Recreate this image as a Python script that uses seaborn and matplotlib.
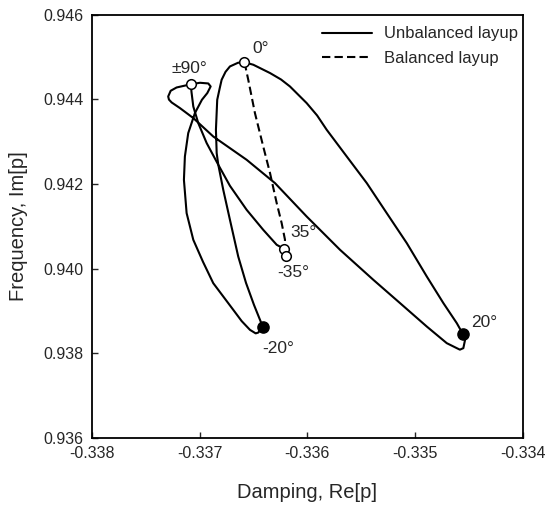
import numpy as np
import pandas as pd
import matplotlib
matplotlib.use("Agg")
import matplotlib.pyplot as plt
import seaborn as sns

# Unbalanced layup: main closed loop (0 -> 20 -> +-90 -> -20 -> 0)
loop_re = [-0.336584, -0.336502, -0.336347, -0.336245, -0.336162, -0.336007,
           -0.335910, -0.335821, -0.335635, -0.335449, -0.335264, -0.335078,
           -0.334892, -0.334738, -0.334614, -0.334558, -0.334537, -0.334553,
           -0.334585, -0.334614, -0.334707, -0.334892, -0.335140, -0.335388,
           -0.335697, -0.336007, -0.336301, -0.336564, -0.336874, -0.337059,
           -0.337183, -0.337260, -0.337285, -0.337292, -0.337269, -0.337214,
           -0.337081, -0.336997, -0.336920, -0.336898, -0.336929, -0.336979,
           -0.337044, -0.337106, -0.337137, -0.337146, -0.337121, -0.337059,
           -0.336969, -0.336874, -0.336688, -0.336610, -0.336533, -0.336480,
           -0.336456, -0.336415, -0.336440, -0.336496, -0.336570, -0.336642,
           -0.336719, -0.336781, -0.336827, -0.336842, -0.336849, -0.336837,
           -0.336815, -0.336796, -0.336760, -0.336719, -0.336644, -0.336584]
loop_im = [0.944877, 0.944818, 0.944622, 0.944470, 0.944305, 0.943912,
           0.943620, 0.943281, 0.942650, 0.942021, 0.941312, 0.940603,
           0.939813, 0.939184, 0.938712, 0.938459, 0.938317, 0.938121,
           0.938085, 0.938121, 0.938239, 0.938631, 0.939184, 0.939735,
           0.940444, 0.941232, 0.942021, 0.942572, 0.943123, 0.943558,
           0.943794, 0.943927, 0.943995, 0.944068, 0.944203, 0.944281,
           0.944357, 0.944392, 0.944376, 0.944305, 0.944149, 0.943990,
           0.943676, 0.943203, 0.942650, 0.942099, 0.941312, 0.940681,
           0.940161, 0.939657, 0.939026, 0.938760, 0.938553, 0.938470,
           0.938489, 0.938631, 0.938790, 0.939144, 0.939664, 0.940286,
           0.941154, 0.941863, 0.942454, 0.942730, 0.943281, 0.943990,
           0.944250, 0.944463, 0.944650, 0.944778, 0.944865, 0.944877]

# Unbalanced layup: branch from +-90 down to 35
branch_re = [-0.337081, -0.337076, -0.337059, -0.337013, -0.336935, -0.336827,
             -0.336719, -0.336564, -0.336410, -0.336285, -0.336217]
branch_im = [0.944345, 0.944179, 0.943832, 0.943440, 0.942967, 0.942454,
             0.941957, 0.941390, 0.940917, 0.940563, 0.940468]

# Balanced layup
bal_re = [-0.336584, -0.336549, -0.336487, -0.336410, -0.336347, -0.336285,
          -0.336239, -0.336208, -0.336217, -0.336202]
bal_im = [0.944877, 0.944463, 0.943676, 0.942886, 0.942258, 0.941548,
          0.941076, 0.940681, 0.940468, 0.940310]

# marked ply angles
open_re = [-0.336584, -0.337081, -0.336214, -0.336202]
open_im = [0.944877, 0.944357, 0.940468, 0.940310]
filled_re = [-0.336415, -0.334558]
filled_im = [0.938631, 0.938459]

labels = ["0°", "±90°", "35°", "-35°", "-20°", "20°"]
label_re = [-0.336431, -0.337099, -0.336032, -0.336134, -0.336273, -0.334360]
label_im = [0.945200, 0.944735, 0.940858, 0.939912, 0.938104, 0.938730]

sns.set_style("ticks", {"xtick.direction": "in", "ytick.direction": "in"})
plt.rcParams["font.family"] = ["Liberation Sans", "DejaVu Sans"]

fig = plt.figure(figsize=(5.47, 5.08), dpi=100)
ax = fig.add_axes([0.168, 0.138, 0.788, 0.833])

df_loop = pd.DataFrame({"re": loop_re, "im": loop_im})
df_branch = pd.DataFrame({"re": branch_re, "im": branch_im})
df_bal = pd.DataFrame({"re": bal_re, "im": bal_im})

sns.lineplot(data=df_loop, x="re", y="im", sort=False, estimator=None,
             color="black", linewidth=1.5, label="Unbalanced layup", ax=ax)
sns.lineplot(data=df_branch, x="re", y="im", sort=False, estimator=None,
             color="black", linewidth=1.5, ax=ax)
sns.lineplot(data=df_bal, x="re", y="im", sort=False, estimator=None,
             color="black", linewidth=1.5, linestyle=(0, (4, 2)),
             label="Balanced layup", ax=ax)

ax.scatter(open_re, open_im, s=48, facecolor="white", edgecolor="black",
           linewidth=1.1, zorder=5)
ax.scatter(filled_re, filled_im, s=65, color="black", zorder=5)

for txt, xr, yi in zip(labels, label_re, label_im):
    ax.text(xr, yi, txt, fontsize=12.5, ha="center", va="center")

ax.set_xlim(-0.338, -0.334)
ax.set_ylim(0.936, 0.946)
ax.set_xticks([-0.338, -0.337, -0.336, -0.335, -0.334])
ax.set_yticks([0.936, 0.938, 0.940, 0.942, 0.944, 0.946])
ax.xaxis.set_major_formatter(matplotlib.ticker.FormatStrFormatter("%.3f"))
ax.yaxis.set_major_formatter(matplotlib.ticker.FormatStrFormatter("%.3f"))
ax.tick_params(labelsize=11.5, length=4, width=1.0)
ax.tick_params(axis="x", pad=6)
ax.tick_params(axis="y", pad=6)
for sp in ax.spines.values():
    sp.set_linewidth(1.3)
    sp.set_color("black")

ax.set_xlabel("Damping, Re[p]", fontsize=14.5, labelpad=16)
ax.set_ylabel("Frequency, Im[p]", fontsize=14.5, labelpad=11)

ax.legend(loc="upper left", bbox_to_anchor=(0.499, 1.008), frameon=False,
          fontsize=12, handlelength=3.0, handletextpad=0.7, labelspacing=0.55)

fig.savefig("out.png", dpi=100)
